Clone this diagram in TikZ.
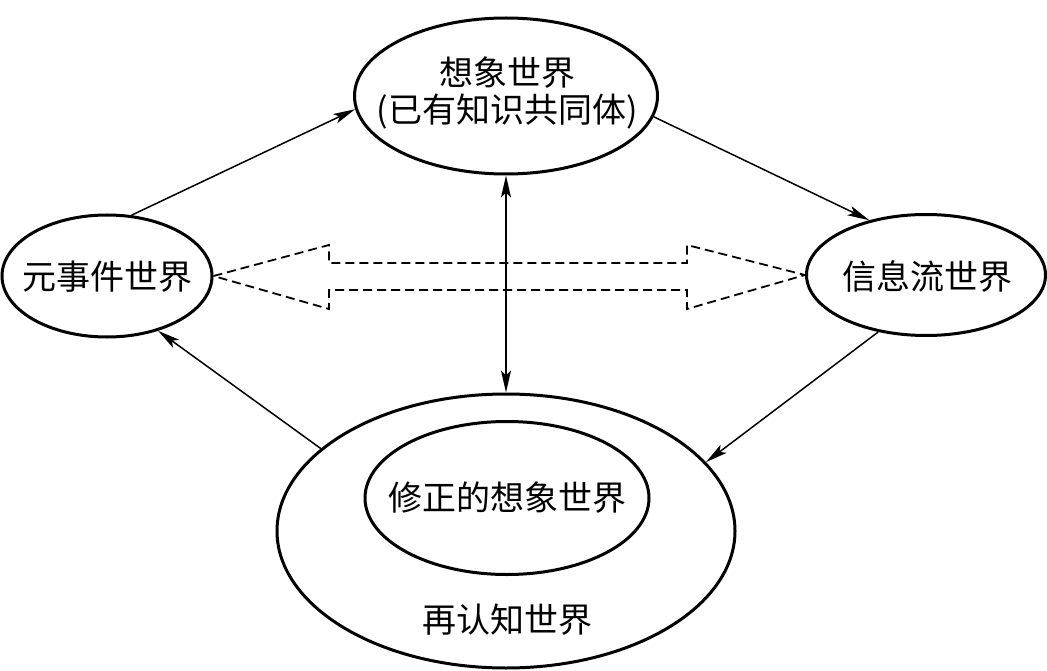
\documentclass[tikz,border=0pt]{standalone}
\usepackage{fontspec}
\newfontfamily\cjk{Noto Sans CJK SC}
\usetikzlibrary{shapes.geometric,arrows.meta}
\begin{document}
\begin{tikzpicture}[x=1pt,y=-1pt,
  world/.style={ellipse,draw,line width=3pt,inner sep=0pt},
  lbl/.style={font=\cjk\fontsize{34}{40}\selectfont,inner sep=0pt},
  conn/.style={line width=1.5pt},
  hollow/.style={line width=1.8pt,dash pattern=on 9pt off 5pt},
  >={Stealth[length=22pt,width=10pt,inset=5pt]}
  ]
\useasboundingbox (0,0) rectangle (1047,671);
% ellipses
\node[world,minimum width=303pt,minimum height=156pt] (top) at (506,96) {};
\node[world,minimum width=210pt,minimum height=122pt] (left) at (107,276) {};
\node[world,minimum width=239pt,minimum height=121pt] (right) at (926,275) {};
\node[world,minimum width=458pt,minimum height=274pt] (big) at (506,531) {};
\node[world,minimum width=284pt,minimum height=153pt] (inner) at (507,498) {};
% labels
\node[lbl] (t1) at (507,73) {想象世界};
\node[lbl] (t2) at (507,112) {(已有知识共同体)};
\node[lbl] (tl) at (107,277) {元事件世界};
\node[lbl] (tr) at (927,277) {信息流世界};
\node[lbl] (ti) at (507,498) {修正的想象世界};
\node[lbl] (tb) at (507,620) {再认知世界};
% connectors
\draw[conn,->] (left.68) -- (top.185.4);
\draw[conn,->] (top.352.6) -- (right.136.5);
\draw[conn,->] (right.230.4) -- (big.19.6);
\draw[conn,->] (big.156.5) -- (left.313.4);
\draw[conn,<->] (top.south) -- (big.north);
% hollow dashed double arrow
\draw[hollow] (left.east) -- (329,245) -- (329,263) -- (687,263) -- (687,245) -- (right.west)
  -- (687,309) -- (687,290) -- (329,290) -- (329,309) -- cycle;
\end{tikzpicture}
\end{document}
